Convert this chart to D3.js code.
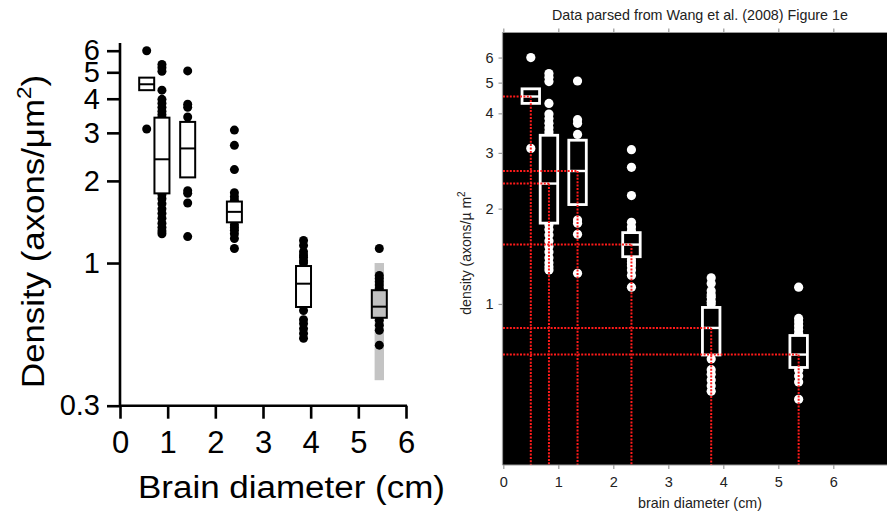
<!DOCTYPE html>
<html>
<head>
<meta charset="utf-8">
<script src="https://cdn.jsdelivr.net/npm/d3@7/dist/d3.min.js"></script>
<style>
  html, body { margin: 0; padding: 0; background: #fff; }
  svg { display: block; }
  text { font-family: "Liberation Sans", Arial, Helvetica, sans-serif; }
</style>
</head>
<body>
<svg id="chart" width="887" height="512"></svg>
<script>
// ---- data ----
const diameterLeft  = [0.56, 0.88, 1.42, 2.40, 3.85, 5.44];   // box positions in the original figure (cm)
const diameterRight = [0.50, 0.83, 1.35, 2.33, 3.78, 5.37];   // parsed positions (cm)
const boxLow  = [4.30, 1.80, 2.06, 1.41, 0.690, 0.630];
const boxMed  = [4.52, 2.40, 2.63, 1.54, 0.840, 0.692];
const boxHigh = [4.78, 3.41, 3.29, 1.68, 0.975, 0.795];
const points = [
  [6.0, 3.1],
  [5.34, 5.2, 5.04, 4.30, 3.98, 3.85, 3.72, 3.60, 3.50, 3.42, 1.78, 1.72, 1.65, 1.58, 1.52, 1.46, 1.40, 1.35, 1.31, 1.28],
  [5.06, 3.82, 3.72, 3.43, 1.84, 1.80, 1.66, 1.25],
  [3.07, 2.70, 2.20, 1.81, 1.75, 1.70, 1.38, 1.35, 1.32, 1.28, 1.23, 1.13],
  [1.21, 1.16, 1.10, 1.07, 1.05, 1.02, 1.00, 0.670, 0.620, 0.600, 0.575, 0.552, 0.530],
  [1.13, 0.900, 0.877, 0.853, 0.830, 0.806, 0.617, 0.592, 0.567, 0.500]
];
const greyRange = [0.372, 1.0];          // shaded range behind the largest brain
const yTicksLeft = [0.3, 1, 2, 3, 4, 5, 6];
const yTicksRight = [1, 2, 3, 4, 5, 6];
const xTicks = [0, 1, 2, 3, 4, 5, 6];

const svg = d3.select("#chart");

// =============== LEFT PANEL ===============
const xL = d3.scaleLinear().domain([0, 6]).range([120, 406]);
const yL = d3.scaleLog().domain([0.3, 6]).range([405.7, 50.7]);
const L = svg.append("g");

// grey range bar
L.append("rect")
  .attr("x", xL(diameterLeft[5]) - 4.7).attr("width", 9.4)
  .attr("y", yL(greyRange[1])).attr("height", yL(greyRange[0]) - yL(greyRange[1]))
  .attr("fill", "#c4c4c4");

// points
points.forEach((pts, i) => {
  L.selectAll(null).data(pts).enter().append("circle")
    .attr("cx", xL(diameterLeft[i])).attr("cy", d => yL(d)).attr("r", 4.5)
    .attr("fill", "#000");
});
// boxes
diameterLeft.forEach((d, i) => {
  const w = 15;
  L.append("rect")
    .attr("x", xL(d) - w / 2).attr("width", w)
    .attr("y", yL(boxHigh[i])).attr("height", yL(boxLow[i]) - yL(boxHigh[i]))
    .attr("fill", i === 5 ? "#c0c0c0" : "#fff").attr("stroke", "#000").attr("stroke-width", 2);
  L.append("line")
    .attr("x1", xL(d) - w / 2).attr("x2", xL(d) + w / 2)
    .attr("y1", yL(boxMed[i])).attr("y2", yL(boxMed[i]))
    .attr("stroke", "#000").attr("stroke-width", 2);
});

// axes
const axL = L.append("g").attr("transform", "translate(120,0)")
  .call(d3.axisLeft(yL).tickValues(yTicksLeft).tickFormat(d => d).tickSize(13).tickPadding(7));
const axB = L.append("g").attr("transform", "translate(0,405.7)")
  .call(d3.axisBottom(xL).tickValues(xTicks).tickFormat(d => d).tickSize(13).tickPadding(12));
[axL, axB].forEach(a => {
  a.select(".domain").remove();
  a.selectAll(".tick line").attr("stroke", "#000").attr("stroke-width", 2.6);
  a.selectAll("text").attr("fill", "#000")
    .attr("font-family", "'Liberation Sans', Arial, sans-serif");
});
axL.selectAll("text").attr("font-size", 29);
axB.selectAll("text").attr("font-size", 31);
L.append("line").attr("x1", 120).attr("x2", 120).attr("y1", 43).attr("y2", 407)
  .attr("stroke", "#000").attr("stroke-width", 2.6);
L.append("line").attr("x1", 119).attr("x2", 407).attr("y1", 405.7).attr("y2", 405.7)
  .attr("stroke", "#000").attr("stroke-width", 2.6);

// axis titles
L.append("text").attr("x", 291.5).attr("y", 498).attr("text-anchor", "middle")
  .attr("font-size", 31).attr("textLength", 307).attr("lengthAdjust", "spacingAndGlyphs")
  .text("Brain diameter (cm)");
const yt = L.append("text").attr("transform", "translate(43.5,231.5) rotate(-90)")
  .attr("text-anchor", "middle").attr("font-size", 31)
  .attr("textLength", 313).attr("lengthAdjust", "spacingAndGlyphs");
yt.append("tspan").text("Density (axons/μm");
yt.append("tspan").attr("font-size", 20).attr("dy", -13).text("2");
yt.append("tspan").attr("dy", 13).text(")");

// =============== RIGHT PANEL ===============
const xR = d3.scaleLinear().domain([0, 6]).range([503.3, 833.3]);
const yR = d3.scaleLog().domain([0.31, 7.2]).range([465, 32.5]);
const R = svg.append("g");
const grey = "#9a9a9a";

R.append("rect").attr("x", 502.5).attr("y", 32.5).attr("width", 400).attr("height", 465 - 32.5)
  .attr("fill", "#000");

// points
points.forEach((pts, i) => {
  R.selectAll(null).data(pts).enter().append("circle")
    .attr("cx", xR(diameterRight[i])).attr("cy", d => yR(d)).attr("r", 4.6)
    .attr("fill", "#fff");
});
// boxes
diameterRight.forEach((d, i) => {
  const w = 17.5;
  R.append("rect")
    .attr("x", xR(d) - w / 2).attr("width", w)
    .attr("y", yR(boxHigh[i])).attr("height", yR(boxLow[i]) - yR(boxHigh[i]))
    .attr("fill", "#000").attr("stroke", "#fff").attr("stroke-width", 2.8);
  R.append("line")
    .attr("x1", xR(d) - w / 2).attr("x2", xR(d) + w / 2)
    .attr("y1", yR(boxMed[i])).attr("y2", yR(boxMed[i]))
    .attr("stroke", "#fff").attr("stroke-width", 2.4);
});
// red dotted guides
diameterRight.forEach((d, i) => {
  R.append("line")
    .attr("x1", 503).attr("x2", xR(d)).attr("y1", yR(boxMed[i])).attr("y2", yR(boxMed[i]))
    .attr("stroke", "#ff1a1a").attr("stroke-width", 2).attr("stroke-dasharray", "2,1.4");
  R.append("line")
    .attr("x1", xR(d)).attr("x2", xR(d)).attr("y1", yR(boxMed[i])).attr("y2", 465)
    .attr("stroke", "#ff1a1a").attr("stroke-width", 2).attr("stroke-dasharray", "2,1.4");
});

// axes
const rb = R.append("g").attr("transform", "translate(0,465)")
  .call(d3.axisBottom(xR).tickValues(xTicks).tickFormat(d => d).tickSize(4).tickPadding(8));
const rt = R.append("g").attr("transform", "translate(0,32.5)")
  .call(d3.axisTop(xR).tickValues(xTicks).tickFormat("").tickSize(4));
const rl = R.append("g").attr("transform", "translate(502.5,0)")
  .call(d3.axisLeft(yR).tickValues(yTicksRight).tickFormat(d => d).tickSize(4).tickPadding(5));
[rb, rt, rl].forEach(a => {
  a.select(".domain").attr("stroke", grey).attr("stroke-width", 1.2);
  a.selectAll(".tick line").attr("stroke", grey).attr("stroke-width", 1.2);
  a.selectAll("text").attr("fill", "#222").attr("font-size", 14.5)
    .attr("font-family", "'Liberation Sans', Arial, sans-serif");
});
rb.select(".domain").attr("d", "M502.5,0H887");
rt.select(".domain").attr("d", "M502.5,0H887");
rl.select(".domain").attr("d", "M0,32.5V465");

R.append("text").attr("x", 700).attr("y", 20).attr("text-anchor", "middle")
  .attr("font-size", 14.3).attr("fill", "#222")
  .text("Data parsed from Wang et al. (2008) Figure 1e");
R.append("text").attr("x", 700).attr("y", 508).attr("text-anchor", "middle")
  .attr("font-size", 14.3).attr("fill", "#222")
  .text("brain diameter (cm)");
const ryt = R.append("text").attr("transform", "translate(471,253) rotate(-90)")
  .attr("text-anchor", "middle").attr("font-size", 14).attr("fill", "#222");
ryt.append("tspan").text("density (axons/µ m");
ryt.append("tspan").attr("font-size", 10).attr("dy", -6).text("2");
</script>
</body>
</html>
